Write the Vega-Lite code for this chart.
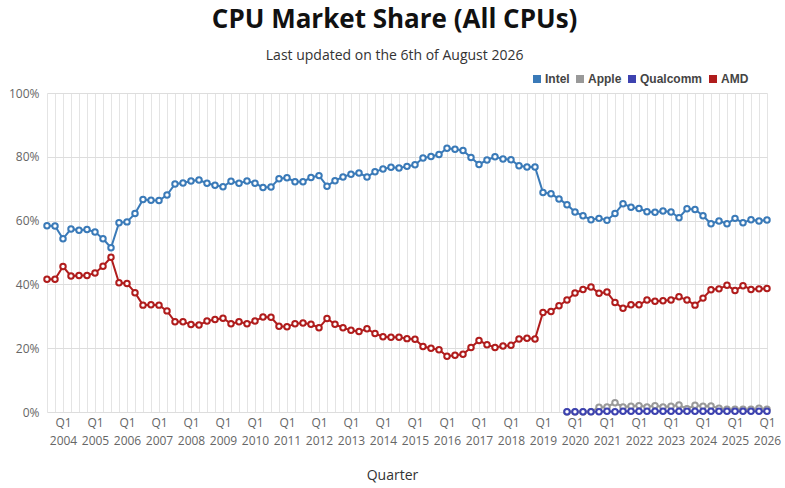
{
  "$schema": "https://vega.github.io/schema/vega-lite/v6.json",
  "width": 720,
  "height": 319,
  "autosize": "none",
  "padding": {"left": 47, "top": 93, "right": 18, "bottom": 76},
  "background": "white",
  "title": {
    "text": "CPU Market Share (All CPUs)",
    "subtitle": "Last updated on the 6th of August 2026",
    "anchor": "middle",
    "frame": "bounds",
    "font": "Open Sans",
    "fontSize": 26,
    "fontWeight": "bold",
    "color": "#111111",
    "subtitleFont": "Open Sans",
    "subtitleFontSize": 14,
    "subtitleColor": "#333333",
    "subtitlePadding": 16,
    "offset": 10
  },
  "data": {
    "values": [
      {"q": "2003 Q3", "c": "Intel", "v": 58.4}, {"q": "2003 Q4", "c": "Intel", "v": 58.3},
      {"q": "2004 Q1", "c": "Intel", "v": 54.3}, {"q": "2004 Q2", "c": "Intel", "v": 57.4}, {"q": "2004 Q3", "c": "Intel", "v": 57.0}, {"q": "2004 Q4", "c": "Intel", "v": 57.2},
      {"q": "2005 Q1", "c": "Intel", "v": 56.4}, {"q": "2005 Q2", "c": "Intel", "v": 54.3}, {"q": "2005 Q3", "c": "Intel", "v": 51.5}, {"q": "2005 Q4", "c": "Intel", "v": 59.3},
      {"q": "2006 Q1", "c": "Intel", "v": 59.6}, {"q": "2006 Q2", "c": "Intel", "v": 62.2}, {"q": "2006 Q3", "c": "Intel", "v": 66.6}, {"q": "2006 Q4", "c": "Intel", "v": 66.4},
      {"q": "2007 Q1", "c": "Intel", "v": 66.3}, {"q": "2007 Q2", "c": "Intel", "v": 68.0}, {"q": "2007 Q3", "c": "Intel", "v": 71.5}, {"q": "2007 Q4", "c": "Intel", "v": 71.8},
      {"q": "2008 Q1", "c": "Intel", "v": 72.4}, {"q": "2008 Q2", "c": "Intel", "v": 72.7}, {"q": "2008 Q3", "c": "Intel", "v": 71.7}, {"q": "2008 Q4", "c": "Intel", "v": 71.1},
      {"q": "2009 Q1", "c": "Intel", "v": 70.6}, {"q": "2009 Q2", "c": "Intel", "v": 72.3}, {"q": "2009 Q3", "c": "Intel", "v": 71.7}, {"q": "2009 Q4", "c": "Intel", "v": 72.4},
      {"q": "2010 Q1", "c": "Intel", "v": 71.7}, {"q": "2010 Q2", "c": "Intel", "v": 70.4}, {"q": "2010 Q3", "c": "Intel", "v": 70.5}, {"q": "2010 Q4", "c": "Intel", "v": 73.1},
      {"q": "2011 Q1", "c": "Intel", "v": 73.4}, {"q": "2011 Q2", "c": "Intel", "v": 72.2}, {"q": "2011 Q3", "c": "Intel", "v": 72.2}, {"q": "2011 Q4", "c": "Intel", "v": 73.5},
      {"q": "2012 Q1", "c": "Intel", "v": 74.1}, {"q": "2012 Q2", "c": "Intel", "v": 70.8}, {"q": "2012 Q3", "c": "Intel", "v": 72.5}, {"q": "2012 Q4", "c": "Intel", "v": 73.7},
      {"q": "2013 Q1", "c": "Intel", "v": 74.5}, {"q": "2013 Q2", "c": "Intel", "v": 74.9}, {"q": "2013 Q3", "c": "Intel", "v": 73.7}, {"q": "2013 Q4", "c": "Intel", "v": 75.3},
      {"q": "2014 Q1", "c": "Intel", "v": 76.2}, {"q": "2014 Q2", "c": "Intel", "v": 76.7}, {"q": "2014 Q3", "c": "Intel", "v": 76.5}, {"q": "2014 Q4", "c": "Intel", "v": 77.0},
      {"q": "2015 Q1", "c": "Intel", "v": 77.5}, {"q": "2015 Q2", "c": "Intel", "v": 79.6}, {"q": "2015 Q3", "c": "Intel", "v": 80.1}, {"q": "2015 Q4", "c": "Intel", "v": 80.7},
      {"q": "2016 Q1", "c": "Intel", "v": 82.7}, {"q": "2016 Q2", "c": "Intel", "v": 82.4}, {"q": "2016 Q3", "c": "Intel", "v": 82.0}, {"q": "2016 Q4", "c": "Intel", "v": 79.8},
      {"q": "2017 Q1", "c": "Intel", "v": 77.6}, {"q": "2017 Q2", "c": "Intel", "v": 79.0}, {"q": "2017 Q3", "c": "Intel", "v": 80.0}, {"q": "2017 Q4", "c": "Intel", "v": 79.3},
      {"q": "2018 Q1", "c": "Intel", "v": 79.1}, {"q": "2018 Q2", "c": "Intel", "v": 77.2}, {"q": "2018 Q3", "c": "Intel", "v": 76.8}, {"q": "2018 Q4", "c": "Intel", "v": 76.8},
      {"q": "2019 Q1", "c": "Intel", "v": 68.8}, {"q": "2019 Q2", "c": "Intel", "v": 68.4}, {"q": "2019 Q3", "c": "Intel", "v": 66.8}, {"q": "2019 Q4", "c": "Intel", "v": 65.0},
      {"q": "2020 Q1", "c": "Intel", "v": 62.7}, {"q": "2020 Q2", "c": "Intel", "v": 61.5}, {"q": "2020 Q3", "c": "Intel", "v": 60.3}, {"q": "2020 Q4", "c": "Intel", "v": 60.7},
      {"q": "2021 Q1", "c": "Intel", "v": 60.1}, {"q": "2021 Q2", "c": "Intel", "v": 62.2}, {"q": "2021 Q3", "c": "Intel", "v": 65.3}, {"q": "2021 Q4", "c": "Intel", "v": 64.2},
      {"q": "2022 Q1", "c": "Intel", "v": 63.8}, {"q": "2022 Q2", "c": "Intel", "v": 62.8}, {"q": "2022 Q3", "c": "Intel", "v": 62.6}, {"q": "2022 Q4", "c": "Intel", "v": 63.0},
      {"q": "2023 Q1", "c": "Intel", "v": 62.7}, {"q": "2023 Q2", "c": "Intel", "v": 60.9}, {"q": "2023 Q3", "c": "Intel", "v": 63.7}, {"q": "2023 Q4", "c": "Intel", "v": 63.5},
      {"q": "2024 Q1", "c": "Intel", "v": 61.5}, {"q": "2024 Q2", "c": "Intel", "v": 59.0}, {"q": "2024 Q3", "c": "Intel", "v": 59.9}, {"q": "2024 Q4", "c": "Intel", "v": 59.0},
      {"q": "2025 Q1", "c": "Intel", "v": 60.7}, {"q": "2025 Q2", "c": "Intel", "v": 59.3}, {"q": "2025 Q3", "c": "Intel", "v": 60.3}, {"q": "2025 Q4", "c": "Intel", "v": 59.9},
      {"q": "2026 Q1", "c": "Intel", "v": 60.2},

      {"q": "2019 Q4", "c": "Apple", "v": 0.0},
      {"q": "2020 Q1", "c": "Apple", "v": 0.0}, {"q": "2020 Q2", "c": "Apple", "v": 0.0}, {"q": "2020 Q3", "c": "Apple", "v": 0.1}, {"q": "2020 Q4", "c": "Apple", "v": 1.5},
      {"q": "2021 Q1", "c": "Apple", "v": 1.6}, {"q": "2021 Q2", "c": "Apple", "v": 2.9}, {"q": "2021 Q3", "c": "Apple", "v": 1.6}, {"q": "2021 Q4", "c": "Apple", "v": 1.8},
      {"q": "2022 Q1", "c": "Apple", "v": 2.0}, {"q": "2022 Q2", "c": "Apple", "v": 1.6}, {"q": "2022 Q3", "c": "Apple", "v": 2.0}, {"q": "2022 Q4", "c": "Apple", "v": 1.6},
      {"q": "2023 Q1", "c": "Apple", "v": 1.8}, {"q": "2023 Q2", "c": "Apple", "v": 2.2}, {"q": "2023 Q3", "c": "Apple", "v": 1.0}, {"q": "2023 Q4", "c": "Apple", "v": 2.1},
      {"q": "2024 Q1", "c": "Apple", "v": 1.8}, {"q": "2024 Q2", "c": "Apple", "v": 1.9}, {"q": "2024 Q3", "c": "Apple", "v": 1.2}, {"q": "2024 Q4", "c": "Apple", "v": 0.9},
      {"q": "2025 Q1", "c": "Apple", "v": 0.9}, {"q": "2025 Q2", "c": "Apple", "v": 0.9}, {"q": "2025 Q3", "c": "Apple", "v": 0.9}, {"q": "2025 Q4", "c": "Apple", "v": 1.2},
      {"q": "2026 Q1", "c": "Apple", "v": 0.9},

      {"q": "2019 Q4", "c": "Qualcomm", "v": 0.1},
      {"q": "2020 Q1", "c": "Qualcomm", "v": 0.1}, {"q": "2020 Q2", "c": "Qualcomm", "v": 0.1}, {"q": "2020 Q3", "c": "Qualcomm", "v": 0.1}, {"q": "2020 Q4", "c": "Qualcomm", "v": 0.1},
      {"q": "2021 Q1", "c": "Qualcomm", "v": 0.2}, {"q": "2021 Q2", "c": "Qualcomm", "v": 0.1}, {"q": "2021 Q3", "c": "Qualcomm", "v": 0.2}, {"q": "2021 Q4", "c": "Qualcomm", "v": 0.2},
      {"q": "2022 Q1", "c": "Qualcomm", "v": 0.2}, {"q": "2022 Q2", "c": "Qualcomm", "v": 0.2}, {"q": "2022 Q3", "c": "Qualcomm", "v": 0.2}, {"q": "2022 Q4", "c": "Qualcomm", "v": 0.2},
      {"q": "2023 Q1", "c": "Qualcomm", "v": 0.2}, {"q": "2023 Q2", "c": "Qualcomm", "v": 0.2}, {"q": "2023 Q3", "c": "Qualcomm", "v": 0.2}, {"q": "2023 Q4", "c": "Qualcomm", "v": 0.2},
      {"q": "2024 Q1", "c": "Qualcomm", "v": 0.2}, {"q": "2024 Q2", "c": "Qualcomm", "v": 0.2}, {"q": "2024 Q3", "c": "Qualcomm", "v": 0.2}, {"q": "2024 Q4", "c": "Qualcomm", "v": 0.2},
      {"q": "2025 Q1", "c": "Qualcomm", "v": 0.2}, {"q": "2025 Q2", "c": "Qualcomm", "v": 0.2}, {"q": "2025 Q3", "c": "Qualcomm", "v": 0.2}, {"q": "2025 Q4", "c": "Qualcomm", "v": 0.2},
      {"q": "2026 Q1", "c": "Qualcomm", "v": 0.2},

      {"q": "2003 Q3", "c": "AMD", "v": 41.6}, {"q": "2003 Q4", "c": "AMD", "v": 41.6},
      {"q": "2004 Q1", "c": "AMD", "v": 45.6}, {"q": "2004 Q2", "c": "AMD", "v": 42.6}, {"q": "2004 Q3", "c": "AMD", "v": 42.8}, {"q": "2004 Q4", "c": "AMD", "v": 42.8},
      {"q": "2005 Q1", "c": "AMD", "v": 43.6}, {"q": "2005 Q2", "c": "AMD", "v": 45.7}, {"q": "2005 Q3", "c": "AMD", "v": 48.5}, {"q": "2005 Q4", "c": "AMD", "v": 40.5},
      {"q": "2006 Q1", "c": "AMD", "v": 40.3}, {"q": "2006 Q2", "c": "AMD", "v": 37.4}, {"q": "2006 Q3", "c": "AMD", "v": 33.5}, {"q": "2006 Q4", "c": "AMD", "v": 33.6},
      {"q": "2007 Q1", "c": "AMD", "v": 33.5}, {"q": "2007 Q2", "c": "AMD", "v": 31.7}, {"q": "2007 Q3", "c": "AMD", "v": 28.3}, {"q": "2007 Q4", "c": "AMD", "v": 28.3},
      {"q": "2008 Q1", "c": "AMD", "v": 27.4}, {"q": "2008 Q2", "c": "AMD", "v": 27.3}, {"q": "2008 Q3", "c": "AMD", "v": 28.5}, {"q": "2008 Q4", "c": "AMD", "v": 29.0},
      {"q": "2009 Q1", "c": "AMD", "v": 29.4}, {"q": "2009 Q2", "c": "AMD", "v": 27.7}, {"q": "2009 Q3", "c": "AMD", "v": 28.3}, {"q": "2009 Q4", "c": "AMD", "v": 27.7},
      {"q": "2010 Q1", "c": "AMD", "v": 28.5}, {"q": "2010 Q2", "c": "AMD", "v": 29.8}, {"q": "2010 Q3", "c": "AMD", "v": 29.7}, {"q": "2010 Q4", "c": "AMD", "v": 26.9},
      {"q": "2011 Q1", "c": "AMD", "v": 26.7}, {"q": "2011 Q2", "c": "AMD", "v": 27.7}, {"q": "2011 Q3", "c": "AMD", "v": 27.9}, {"q": "2011 Q4", "c": "AMD", "v": 27.5},
      {"q": "2012 Q1", "c": "AMD", "v": 26.4}, {"q": "2012 Q2", "c": "AMD", "v": 29.3}, {"q": "2012 Q3", "c": "AMD", "v": 27.5}, {"q": "2012 Q4", "c": "AMD", "v": 26.4},
      {"q": "2013 Q1", "c": "AMD", "v": 25.6}, {"q": "2013 Q2", "c": "AMD", "v": 25.2}, {"q": "2013 Q3", "c": "AMD", "v": 26.1}, {"q": "2013 Q4", "c": "AMD", "v": 24.6},
      {"q": "2014 Q1", "c": "AMD", "v": 23.6}, {"q": "2014 Q2", "c": "AMD", "v": 23.4}, {"q": "2014 Q3", "c": "AMD", "v": 23.4}, {"q": "2014 Q4", "c": "AMD", "v": 23.0},
      {"q": "2015 Q1", "c": "AMD", "v": 22.8}, {"q": "2015 Q2", "c": "AMD", "v": 20.5}, {"q": "2015 Q3", "c": "AMD", "v": 20.0}, {"q": "2015 Q4", "c": "AMD", "v": 19.5},
      {"q": "2016 Q1", "c": "AMD", "v": 17.5}, {"q": "2016 Q2", "c": "AMD", "v": 17.8}, {"q": "2016 Q3", "c": "AMD", "v": 18.1}, {"q": "2016 Q4", "c": "AMD", "v": 20.2},
      {"q": "2017 Q1", "c": "AMD", "v": 22.4}, {"q": "2017 Q2", "c": "AMD", "v": 21.1}, {"q": "2017 Q3", "c": "AMD", "v": 20.2}, {"q": "2017 Q4", "c": "AMD", "v": 20.7},
      {"q": "2018 Q1", "c": "AMD", "v": 20.9}, {"q": "2018 Q2", "c": "AMD", "v": 22.9}, {"q": "2018 Q3", "c": "AMD", "v": 23.1}, {"q": "2018 Q4", "c": "AMD", "v": 22.9},
      {"q": "2019 Q1", "c": "AMD", "v": 31.2}, {"q": "2019 Q2", "c": "AMD", "v": 31.5}, {"q": "2019 Q3", "c": "AMD", "v": 33.3}, {"q": "2019 Q4", "c": "AMD", "v": 35.1},
      {"q": "2020 Q1", "c": "AMD", "v": 37.3}, {"q": "2020 Q2", "c": "AMD", "v": 38.4}, {"q": "2020 Q3", "c": "AMD", "v": 39.2}, {"q": "2020 Q4", "c": "AMD", "v": 37.2},
      {"q": "2021 Q1", "c": "AMD", "v": 37.6}, {"q": "2021 Q2", "c": "AMD", "v": 34.3}, {"q": "2021 Q3", "c": "AMD", "v": 32.5}, {"q": "2021 Q4", "c": "AMD", "v": 33.6},
      {"q": "2022 Q1", "c": "AMD", "v": 33.6}, {"q": "2022 Q2", "c": "AMD", "v": 35.1}, {"q": "2022 Q3", "c": "AMD", "v": 34.7}, {"q": "2022 Q4", "c": "AMD", "v": 34.9},
      {"q": "2023 Q1", "c": "AMD", "v": 35.1}, {"q": "2023 Q2", "c": "AMD", "v": 36.1}, {"q": "2023 Q3", "c": "AMD", "v": 35.1}, {"q": "2023 Q4", "c": "AMD", "v": 33.5},
      {"q": "2024 Q1", "c": "AMD", "v": 35.7}, {"q": "2024 Q2", "c": "AMD", "v": 38.3}, {"q": "2024 Q3", "c": "AMD", "v": 38.6}, {"q": "2024 Q4", "c": "AMD", "v": 39.7},
      {"q": "2025 Q1", "c": "AMD", "v": 38.1}, {"q": "2025 Q2", "c": "AMD", "v": 39.6}, {"q": "2025 Q3", "c": "AMD", "v": 38.4}, {"q": "2025 Q4", "c": "AMD", "v": 38.6},
      {"q": "2026 Q1", "c": "AMD", "v": 38.7}
    ]
  },
  "mark": {
    "type": "line",
    "strokeWidth": 2,
    "point": {"filled": false, "fill": "white", "size": 30, "strokeWidth": 2}
  },
  "encoding": {
    "x": {
      "field": "q",
      "type": "ordinal",
      "sort": null,
      "scale": {"type": "point", "padding": 0},
      "axis": {
        "title": "Quarter",
        "titleFont": "Open Sans",
        "titleFontSize": 14,
        "titleFontWeight": "normal",
        "titleColor": "#333333",
        "titleX": 345,
        "titleY": 56,
        "titleBaseline": "top",
        "labelExpr": "slice(datum.label, 5) == 'Q1' ? ['Q1', slice(datum.label, 0, 4)] : ''",
        "labelAngle": 0,
        "labelOverlap": false,
        "labelFont": "Open Sans",
        "labelFontSize": 12,
        "labelColor": "#666666",
        "labelLineHeight": 18,
        "labelPadding": 5,
        "ticks": false,
        "domain": false,
        "grid": true,
        "gridColor": "#e4e4e4"
      }
    },
    "y": {
      "field": "v",
      "type": "quantitative",
      "scale": {"domain": [0, 100]},
      "axis": {
        "title": null,
        "values": [0, 20, 40, 60, 80, 100],
        "labelExpr": "datum.value + '%'",
        "labelFont": "Open Sans",
        "labelFontSize": 12,
        "labelColor": "#666666",
        "labelPadding": 8,
        "ticks": false,
        "domain": false,
        "gridColor": "#dddddd"
      }
    },
    "color": {
      "field": "c",
      "type": "nominal",
      "sort": null,
      "scale": {
        "domain": ["Intel", "Apple", "Qualcomm", "AMD"],
        "range": ["#3a7ab8", "#999999", "#3d42b0", "#b01c1c"]
      },
      "legend": {
        "title": null,
        "orient": "none",
        "direction": "horizontal",
        "legendX": 484,
        "legendY": -20,
        "symbolType": "square",
        "symbolSize": 64,
        "columnPadding": 4,
        "labelOffset": 2,
        "labelFont": "Liberation Sans",
        "labelFontSize": 12,
        "labelFontWeight": "bold",
        "labelColor": "#444444",
        "encode": {
          "symbols": {
            "update": {
              "fill": {"scale": "color", "field": "value"},
              "strokeWidth": {"value": 0}
            }
          }
        }
      }
    }
  },
  "config": {
    "font": "Open Sans",
    "view": {"stroke": null}
  }
}
